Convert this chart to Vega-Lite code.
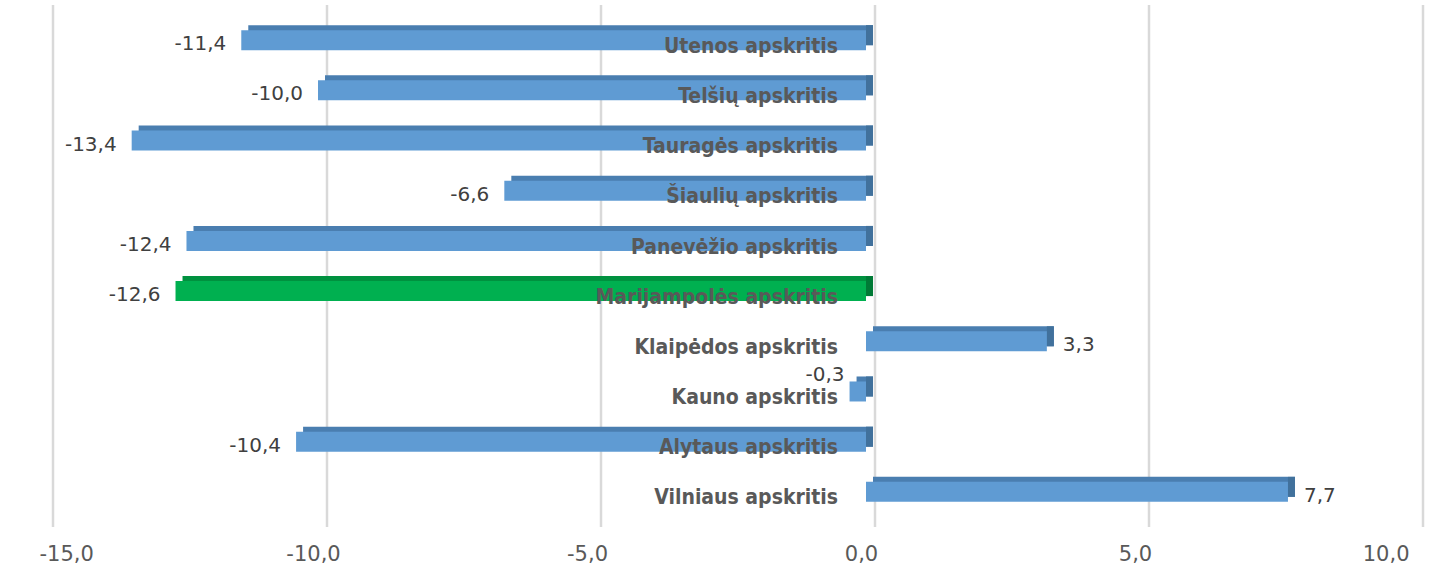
{
  "$schema": "https://vega.github.io/schema/vega-lite/v6.json",
  "width": 1370,
  "height": 522,
  "autosize": {"type": "none"},
  "padding": {"left": 44, "top": 5, "right": 25, "bottom": 40},
  "background": "#ffffff",
  "config": {
    "view": {"stroke": null},
    "locale": {"number": {"decimal": ",", "thousands": " ", "grouping": [3], "currency": ["", ""], "minus": "-"}}
  },
  "datasets": {
    "regions": [
      {"region": "Utenos apskritis", "value": -11.4},
      {"region": "Telšių apskritis", "value": -10.0},
      {"region": "Tauragės apskritis", "value": -13.4},
      {"region": "Šiaulių apskritis", "value": -6.6},
      {"region": "Panevėžio apskritis", "value": -12.4},
      {"region": "Marijampolės apskritis", "value": -12.6},
      {"region": "Klaipėdos apskritis", "value": 3.3},
      {"region": "Kauno apskritis", "value": -0.3},
      {"region": "Alytaus apskritis", "value": -10.4},
      {"region": "Vilniaus apskritis", "value": 7.7}
    ],
    "grid": [{"v": -15}, {"v": -10}, {"v": -5}, {"v": 0}, {"v": 5}, {"v": 10}]
  },
  "data": {"name": "regions"},
  "encoding": {
    "y": {"field": "region", "type": "nominal", "sort": null,
          "scale": {"paddingInner": 0, "paddingOuter": 0.2}, "axis": null}
  },
  "layer": [
    {
      "data": {"name": "grid"},
      "mark": {"type": "rule", "color": "#d9d9d9", "strokeWidth": 2.5, "xOffset": 9},
      "encoding": {
        "y": null,
        "x": {"field": "v", "type": "quantitative",
              "scale": {"domain": [-15, 10], "nice": false, "zero": false},
              "axis": {"values": [-15, -10, -5, 0, 5, 10], "format": ".1f", "grid": false,
                       "ticks": false, "domain": false, "labelPadding": 16, "labelOffset": -5,
                       "labelFont": "DejaVu Sans", "labelFontSize": 21, "labelColor": "#595959", "title": null}}
      }
    },
    {
      "mark": {"type": "bar", "height": 20, "xOffset": 7, "x2Offset": 7, "yOffset": -5},
      "encoding": {
        "x": {"field": "value", "type": "quantitative"},
        "x2": {"datum": 0},
        "color": {"condition": {"test": "datum.region === 'Marijampolės apskritis'", "value": "#00913f"}, "value": "#4a7eb0"}
      }
    },
    {
      "transform": [{"filter": "datum.value < 0"}],
      "mark": {"type": "bar", "height": 20, "x2Offset": 7, "yOffset": -5},
      "encoding": {
        "x": {"datum": 0, "type": "quantitative"},
        "x2": {"datum": 0},
        "color": {"condition": {"test": "datum.region === 'Marijampolės apskritis'", "value": "#007a36"}, "value": "#41719c"}
      }
    },
    {
      "transform": [{"filter": "datum.value > 0"}],
      "mark": {"type": "bar", "height": 20, "x2Offset": 7, "yOffset": -5},
      "encoding": {
        "x": {"field": "value", "type": "quantitative"},
        "x2": {"field": "value"},
        "color": {"value": "#41719c"}
      }
    },
    {
      "mark": {"type": "bar", "height": 20},
      "encoding": {
        "x": {"field": "value", "type": "quantitative"},
        "x2": {"datum": 0},
        "color": {"condition": {"test": "datum.region === 'Marijampolės apskritis'", "value": "#00b050"}, "value": "#5f9bd3"}
      }
    },
    {
      "transform": [{"filter": "datum.value < 0 && datum.region !== 'Kauno apskritis'"}],
      "mark": {"type": "text", "align": "right", "baseline": "alphabetic", "dx": -15, "dy": 10,
               "font": "DejaVu Sans", "fontSize": 20, "letterSpacing": 1, "color": "#404040"},
      "encoding": {
        "x": {"field": "value", "type": "quantitative"},
        "text": {"field": "value", "type": "quantitative", "format": ".1f"}
      }
    },
    {
      "transform": [{"filter": "datum.region === 'Kauno apskritis'"}],
      "mark": {"type": "text", "align": "right", "baseline": "alphabetic", "dx": -5, "dy": -10,
               "font": "DejaVu Sans", "fontSize": 20, "letterSpacing": 1, "color": "#404040"},
      "encoding": {
        "x": {"field": "value", "type": "quantitative"},
        "text": {"field": "value", "type": "quantitative", "format": ".1f"}
      }
    },
    {
      "transform": [{"filter": "datum.value > 0"}],
      "mark": {"type": "text", "align": "left", "baseline": "alphabetic", "dx": 16, "dy": 10,
               "font": "DejaVu Sans", "fontSize": 20, "letterSpacing": 1, "color": "#404040"},
      "encoding": {
        "x": {"field": "value", "type": "quantitative"},
        "text": {"field": "value", "type": "quantitative", "format": ".1f"}
      }
    },
    {
      "mark": {"type": "text", "align": "right", "baseline": "alphabetic", "dx": -28, "dy": 12.6,
               "font": "DejaVu Sans Condensed, DejaVu Sans", "fontWeight": "bold", "fontSize": 21, "color": "#595959"},
      "encoding": {
        "x": {"datum": 0, "type": "quantitative"},
        "text": {"field": "region", "type": "nominal"}
      }
    }
  ]
}
